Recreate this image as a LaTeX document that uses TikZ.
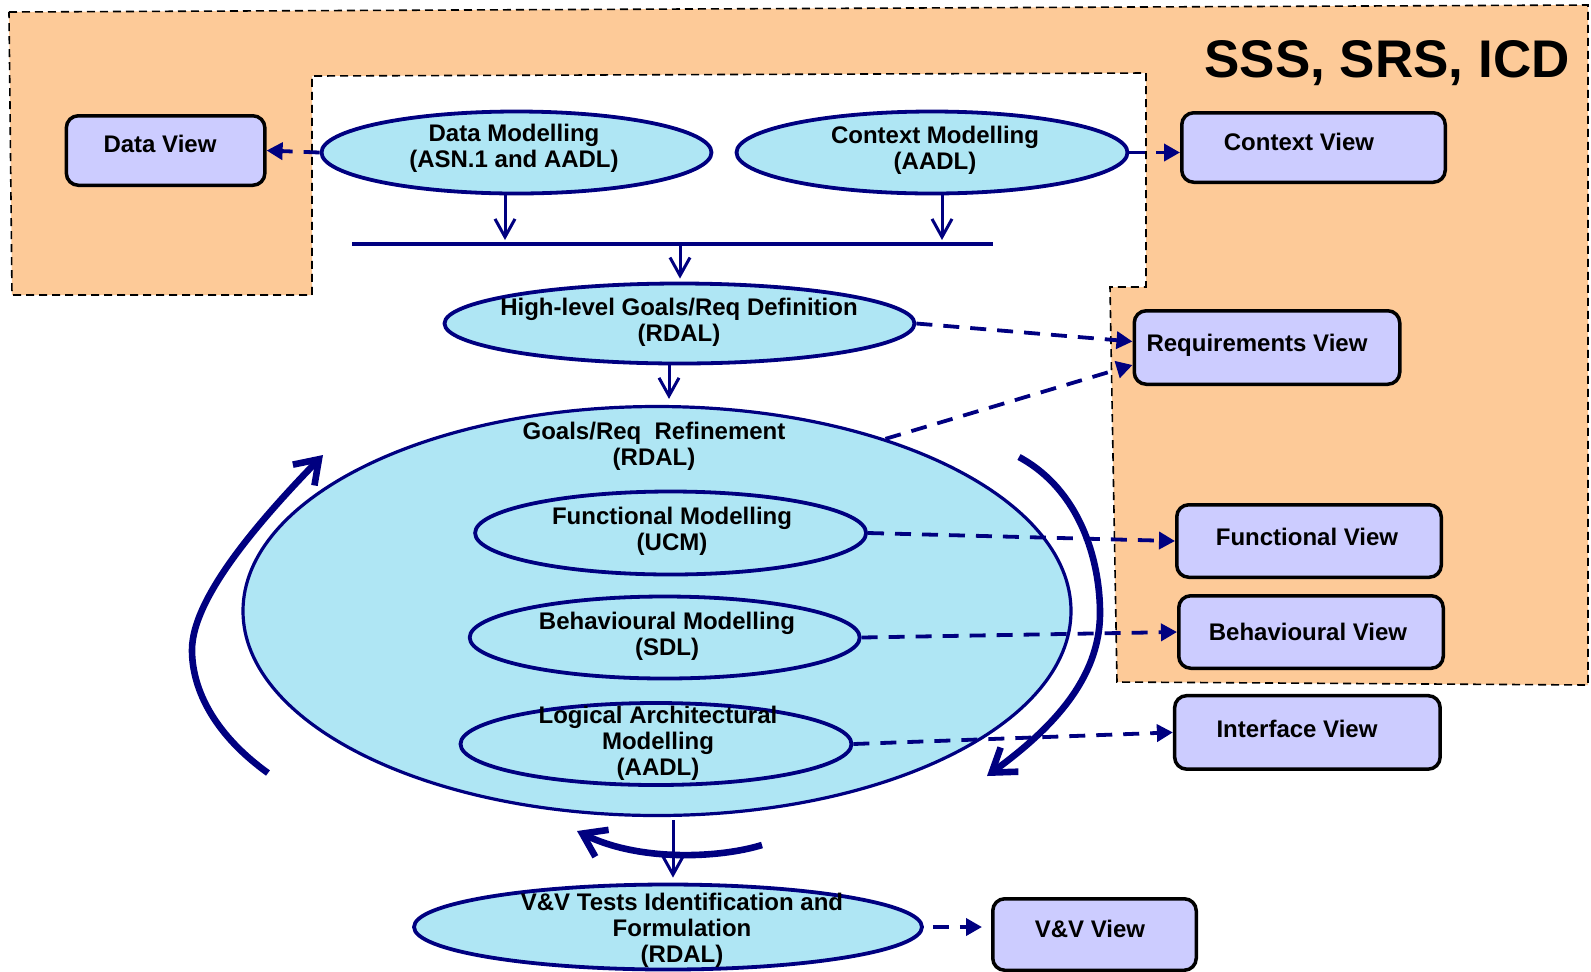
\documentclass[tikz,border=0pt]{standalone}
\usepackage{fontspec}
\setmainfont{Liberation Sans}
\usetikzlibrary{shapes.geometric,arrows.meta,calc}

\definecolor{peach}{RGB}{253,202,152}
\definecolor{skyfill}{RGB}{175,230,244}
\definecolor{navy}{RGB}{0,0,128}
\definecolor{lavender}{RGB}{204,204,255}

\begin{document}
\begin{tikzpicture}[x=0.5pt,y=-0.5pt,
  font=\fontsize{12}{13}\selectfont\bfseries,
  oval/.style={ellipse, draw=navy, line width=1.9pt, fill=skyfill, inner sep=0pt},
  viewbox/.style={draw=black, line width=1.75pt, fill=lavender, rounded corners=6pt, inner sep=0pt},
  caption/.style={align=center, inner sep=0pt, text=black},
  flow/.style={draw=navy, line width=1.5pt, -{Straight Barb[length=9pt,width=10pt]}},
  viewlink/.style={draw=navy, line width=1.9pt, dash pattern=on 8pt off 5.5pt,
                   -{Triangle[length=8pt,width=8.5pt]}},
  looparrow/.style={draw=navy, line width=3.3pt, -{Straight Barb[length=11pt,width=15pt]}},
  zone/.style={fill=peach, draw=black, line width=0.8pt, dash pattern=on 4pt off 2.5pt},
]
\useasboundingbox (0,0) rectangle (1591,971);

% documentation zone (SSS, SRS, ICD)
\path[zone] (9,12) -- (1588,5) -- (1588,685) -- (1117,682) -- (1110,287)
  -- (1146,287) -- (1146,73) -- (312,76) -- (312,295) -- (12,295) -- cycle;
\node[anchor=base east, inner sep=0pt, font=\fontsize{26.5}{30}\selectfont\bfseries] (title)
  at (1570,77) {SSS, SRS, ICD};

% modelling activities
\node[oval, minimum width=195pt, minimum height=41pt] (dm) at (516.5,152.5) {};
\node[oval, minimum width=195.5pt, minimum height=41pt] (cm) at (932,152.5) {};
\node[oval, minimum width=235pt, minimum height=40pt] (hl) at (679.5,323.5) {};
\node[oval, line width=1.6pt, minimum width=414pt, minimum height=204.5pt] (big) at (657,611) {};
\node[oval, minimum width=195.5pt, minimum height=41.5pt] (fm) at (670.6,533) {};
\node[oval, minimum width=195pt, minimum height=41pt] (bm) at (664.7,637.5) {};
\node[oval, minimum width=195.5pt, minimum height=41pt] (lm) at (656,744) {};
\node[oval, minimum width=254pt, minimum height=42.5pt] (vv) at (668,927) {};

\node[caption] (dmt) at (514,148.5) {Data Modelling\\(ASN.1 and AADL)};
\node[caption] (cmt) at (935,150) {Context Modelling\\(AADL)};
\node[caption] (hlt) at (679,322.7) {High-level Goals/Req Definition\\(RDAL)};
\node[caption] (bigt) at (654,446) {Goals/Req\ \ Refinement\\(RDAL)};
\node[caption] (fmt) at (672,531) {Functional Modelling\\(UCM)};
\node[caption] (bmt) at (667,636) {Behavioural Modelling\\(SDL)};
\node[caption] (lmt) at (658,743) {Logical Architectural\\Modelling\\(AADL)};
\node[caption] (vvt) at (682,930) {V\&V Tests Identification and\\Formulation\\(RDAL)};

% views
\node[viewbox, minimum width=99.25pt, minimum height=34.75pt] (dvbox) at (165.6,150.5) {};
\node[viewbox, minimum width=131.75pt, minimum height=34.75pt] (cvbox) at (1313.5,147.5) {};
\node[viewbox, minimum width=132.75pt, minimum height=36.75pt] (reqbox) at (1267,347.5) {};
\node[viewbox, minimum width=132.25pt, minimum height=36.25pt] (fvbox) at (1309,541) {};
\node[viewbox, minimum width=132.25pt, minimum height=36.25pt] (bvbox) at (1311,632) {};
\node[viewbox, minimum width=132.75pt, minimum height=36.75pt] (ivbox) at (1307.4,732.4) {};
\node[viewbox, minimum width=101.75pt, minimum height=35.75pt] (vvbox) at (1094.5,934.5) {};

\node[caption, anchor=base] (dvt) at (160,152) {Data View};
\node[caption, anchor=base] (cvt) at (1299,150) {Context View};
\node[caption, anchor=base] (reqt) at (1257,351) {Requirements View};
\node[caption, anchor=base] (fvt) at (1307,545.5) {Functional View};
\node[caption, anchor=base] (bvt) at (1308,640) {Behavioural View};
\node[caption, anchor=base] (ivt) at (1297,737) {Interface View};
\node[caption, anchor=base] (vvbt) at (1090,937) {V\&V View};

% merge bar
\coordinate (barL) at (352,244);
\coordinate (barR) at (993,244);
\coordinate (jdm) at (505,244);
\coordinate (jcm) at (942,244);
\coordinate (jhl) at (680,244);
\draw[navy, line width=2.2pt] (barL) -- (barR);

% process flow
\draw[flow, shorten >=2pt] (dm.south -| jdm) -- (jdm);
\draw[flow, shorten >=2pt] (cm.south -| jcm) -- (jcm);
\draw[flow, shorten >=1.5pt] (jhl) -- (hl.north -| jhl);
\draw[flow, shorten >=3pt] ($(big.north |- hl.south)+(12,0)$) -- ($(big.north)+(12,0)$);
\draw[flow, shorten <=1.5pt, shorten >=2.5pt] ($(big.south)+(16,0)$) -- ($(vv.north)+(5,0)$);

% links to the views
\draw[viewlink] (dm.west) -- (dvbox.east);
\draw[viewlink] (cm.east) -- (cm.east -| cvbox.west);
\draw[viewlink] (hl.east) -- ($(reqbox.west)+(0,-6)$);
\draw[viewlink] (big.37) -- ($(reqbox.west)+(0,17.5)$);
\draw[viewlink] (fm.east) -- (fvbox.west);
\draw[viewlink] (bm.east) -- (bvbox.west);
\draw[viewlink] (lm.east) -- (ivbox.west);
\draw[viewlink, shorten <=4.5pt, shorten >=4.5pt] (vv.east) -- (vv.east -| vvbox.west);

% iteration arrows around the refinement loop
\coordinate (la) at (268,773);
\coordinate (lb) at (323,455);
\coordinate (ra) at (1019,457);
\coordinate (rb) at (987,776);
\coordinate (ba) at (762,845);
\coordinate (bb) at (577,831);
\draw[looparrow] (la) .. controls (215,735) and (192,690) .. (192,650)
  .. controls (192,595) and (268,512) .. (lb);
\draw[looparrow] (ra) .. controls (1080,490) and (1100,560) .. (1100,613)
  .. controls (1100,680) and (1050,730) .. (rb);
\draw[looparrow] (ba) .. controls (720,858) and (640,862) .. (bb);
\end{tikzpicture}
\end{document}
